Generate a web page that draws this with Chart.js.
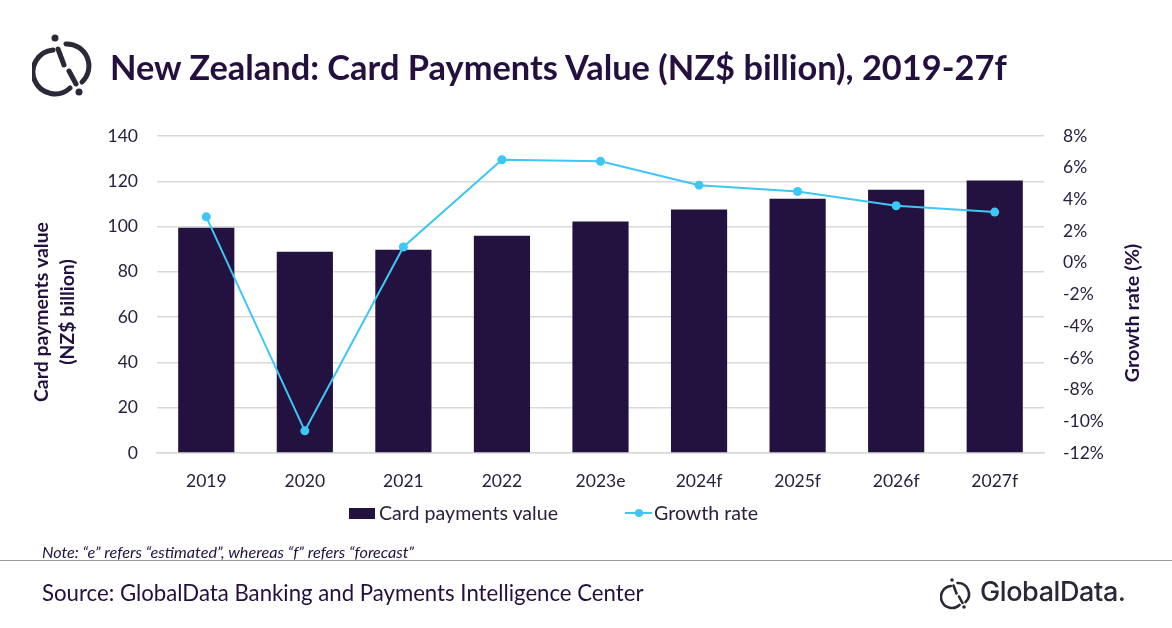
<!DOCTYPE html>
<html>
<head>
<meta charset="utf-8">
<script src="https://cdn.jsdelivr.net/npm/chart.js@4.4.0/dist/chart.umd.min.js"></script>
<style>
  html, body { margin: 0; padding: 0; background: #fff; }
  #page { position: relative; width: 1172px; height: 628px; overflow: hidden; font-family: Lato, "Open Sans", sans-serif; color: #24103f; }
  #chart-wrap { position: absolute; left: 0; top: 0; width: 1172px; height: 628px; }
  .abs { position: absolute; white-space: nowrap; }
  #title { left: 110px; top: 43px; font-size: 34.4px; font-weight: 700; line-height: 48px; }
  #legend { left: 349px; top: 502px; font-size: 19.6px; line-height: 22px; color: #2a2140; }
  .lg-item { position: absolute; top: 0; white-space: nowrap; }
  .swatch { position: absolute; top: 6px; width: 26px; height: 11px; background: #23123f; }
  .lg-line { position: absolute; top: 10px; width: 27px; height: 2px; background: #3ec6f4; }
  .lg-dot { position: absolute; top: 7px; width: 8px; height: 8px; border-radius: 50%; background: #3ec6f4; }
  #note { left: 42px; top: 541px; font-size: 16.2px; line-height: 22px; font-style: italic; }
  #rule { left: 0; top: 560px; width: 1172px; height: 0; border-top: 1.5px solid #9a9a9a; }
  #source { left: 42px; top: 579px; font-size: 22.2px; line-height: 28px; }
  #gd-text { left: 980px; top: 574px; font-family: Inter, Lato, sans-serif; font-size: 27px; line-height: 36px; font-weight: 500; color: #2a2738; letter-spacing: -0.4px; }
</style>
</head>
<body>
<div id="page">
  <div id="chart-wrap"><canvas id="chart"></canvas></div>

  <svg class="abs" style="left:32px;top:26px" width="70" height="80" viewBox="-35 -40 70 80">
    <g fill="none" stroke="#2c2838" stroke-width="5" stroke-linecap="round">
      <path d="M -14 -16 A 22 22 0 1 0 3 22"/>
      <path d="M -1 -22 A 22 22 0 0 1 15 16"/>
      <path d="M -9 -17 L -3 -1"/>
      <path d="M 2 5 L 9 18"/>
    </g>
    <circle cx="-12" cy="-28" r="3.5" fill="#2c2838"/>
    <circle cx="12" cy="26" r="3.5" fill="#2c2838"/>
  </svg>
  <div id="title" class="abs">New Zealand: Card Payments Value (NZ$ billion), 2019-27f</div>

  <div id="legend" class="abs">
    <div class="lg-item" style="left:0"><div class="swatch" style="left:0"></div><span style="position:absolute;left:30px">Card payments value</span></div>
    <div class="lg-item" style="left:276px"><div class="lg-line" style="left:0"></div><div class="lg-dot" style="left:10px"></div><span style="position:absolute;left:29px">Growth rate</span></div>
  </div>

  <div id="note" class="abs">Note: “e” refers “estimated”, whereas “f” refers “forecast”</div>
  <div id="rule" class="abs"></div>
  <div id="source" class="abs">Source: GlobalData Banking and Payments Intelligence Center</div>

  <svg class="abs" style="left:940px;top:574px" width="36" height="40" viewBox="-18 -20 36 40">
    <g fill="none" stroke="#2c2838" stroke-width="2.6" stroke-linecap="round">
      <path d="M -7 -8 A 11 11 0 1 0 1.5 11"/>
      <path d="M -0.5 -11 A 11 11 0 0 1 7.5 8"/>
      <path d="M -4.5 -8.5 L -1.5 -0.5"/>
      <path d="M 1 2.5 L 4.5 9"/>
    </g>
    <circle cx="-6" cy="-14" r="1.8" fill="#2c2838"/>
    <circle cx="6" cy="13" r="1.8" fill="#2c2838"/>
  </svg>
  <div id="gd-text" class="abs">GlobalData.</div>
</div>

<script>
const years = ['2019', '2020', '2021', '2022', '2023e', '2024f', '2025f', '2026f', '2027f'];
const cardValues = [99.5, 88.9, 89.8, 96.0, 102.2, 107.5, 112.3, 116.3, 120.3];
const growthRates = [2.9, -10.6, 1.0, 6.5, 6.4, 4.9, 4.5, 3.6, 3.2];
const leftTicks = [0, 20, 40, 60, 80, 100, 120, 140];
const rightTicks = [-12, -10, -8, -6, -4, -2, 0, 2, 4, 6, 8];

const barColor = '#23123f';
const lineColor = '#3ec6f4';
const tickColor = '#2a2140';
const tickFont = { family: 'Lato', size: 17.5 };

// axis titles drawn by hand so they sit where the original has them
const axisTitles = {
    id: 'axisTitles',
    afterDraw(chart) {
        const ctx = chart.ctx;
        ctx.save();
        ctx.fillStyle = '#24103f';
        ctx.font = 'bold 19.4px Lato';
        ctx.textAlign = 'center';
        ctx.textBaseline = 'middle';

        const put = (text, x, y) => {
            ctx.save();
            ctx.translate(x, y);
            ctx.rotate(-Math.PI / 2);
            ctx.fillText(text, 0, 0);
            ctx.restore();
        };
        put('Card payments value', 42, 312);
        put('(NZ$ billion)', 68, 312);
        ctx.font = 'bold 19.8px Lato';
        put('Growth rate (%)', 1133, 313);

        ctx.restore();
    }
};

new Chart(document.getElementById('chart'), {
    data: {
        labels: years,
        datasets: [
            {
                type: 'line',
                label: 'Growth rate',
                data: growthRates,
                yAxisID: 'y1',
                borderColor: lineColor,
                backgroundColor: lineColor,
                borderWidth: 2,
                pointRadius: 4.5,
                pointBackgroundColor: lineColor,
                pointBorderWidth: 0,
                tension: 0,
                order: 0
            },
            {
                type: 'bar',
                label: 'Card payments value',
                data: cardValues,
                yAxisID: 'y',
                backgroundColor: barColor,
                categoryPercentage: 1,
                barPercentage: 0.57,
                order: 1
            }
        ]
    },
    options: {
        responsive: true,
        maintainAspectRatio: false,
        animation: false,
        layout: { padding: { top: 136, left: 0, right: 0, bottom: 0 } },
        plugins: {
            legend: { display: false },
            tooltip: { enabled: false }
        },
        scales: {
            x: {
                grid: { display: false, drawTicks: false },
                border: { color: '#d9d9d9', width: 1.5 },
                ticks: { color: tickColor, font: tickFont, padding: 18, maxRotation: 0 },
                afterFit(scale) { scale.height = 175; }
            },
            y: {
                position: 'left',
                min: 0,
                max: 140,
                afterBuildTicks(scale) { scale.ticks = leftTicks.map(v => ({ value: v })); },
                grid: { color: '#d9d9d9', lineWidth: 1.5, drawTicks: false },
                border: { display: false },
                ticks: { color: tickColor, font: tickFont, padding: 19 },
                afterFit(scale) { scale.width = 157; }
            },
            y1: {
                position: 'right',
                min: -12,
                max: 8,
                afterBuildTicks(scale) { scale.ticks = rightTicks.map(v => ({ value: v })); },
                grid: { display: false, drawTicks: false },
                border: { display: false },
                ticks: { color: tickColor, font: tickFont, padding: 19, callback: v => v + '%' },
                afterFit(scale) { scale.width = 128; }
            }
        }
    },
    plugins: [axisTitles]
});
</script>
</body>
</html>
